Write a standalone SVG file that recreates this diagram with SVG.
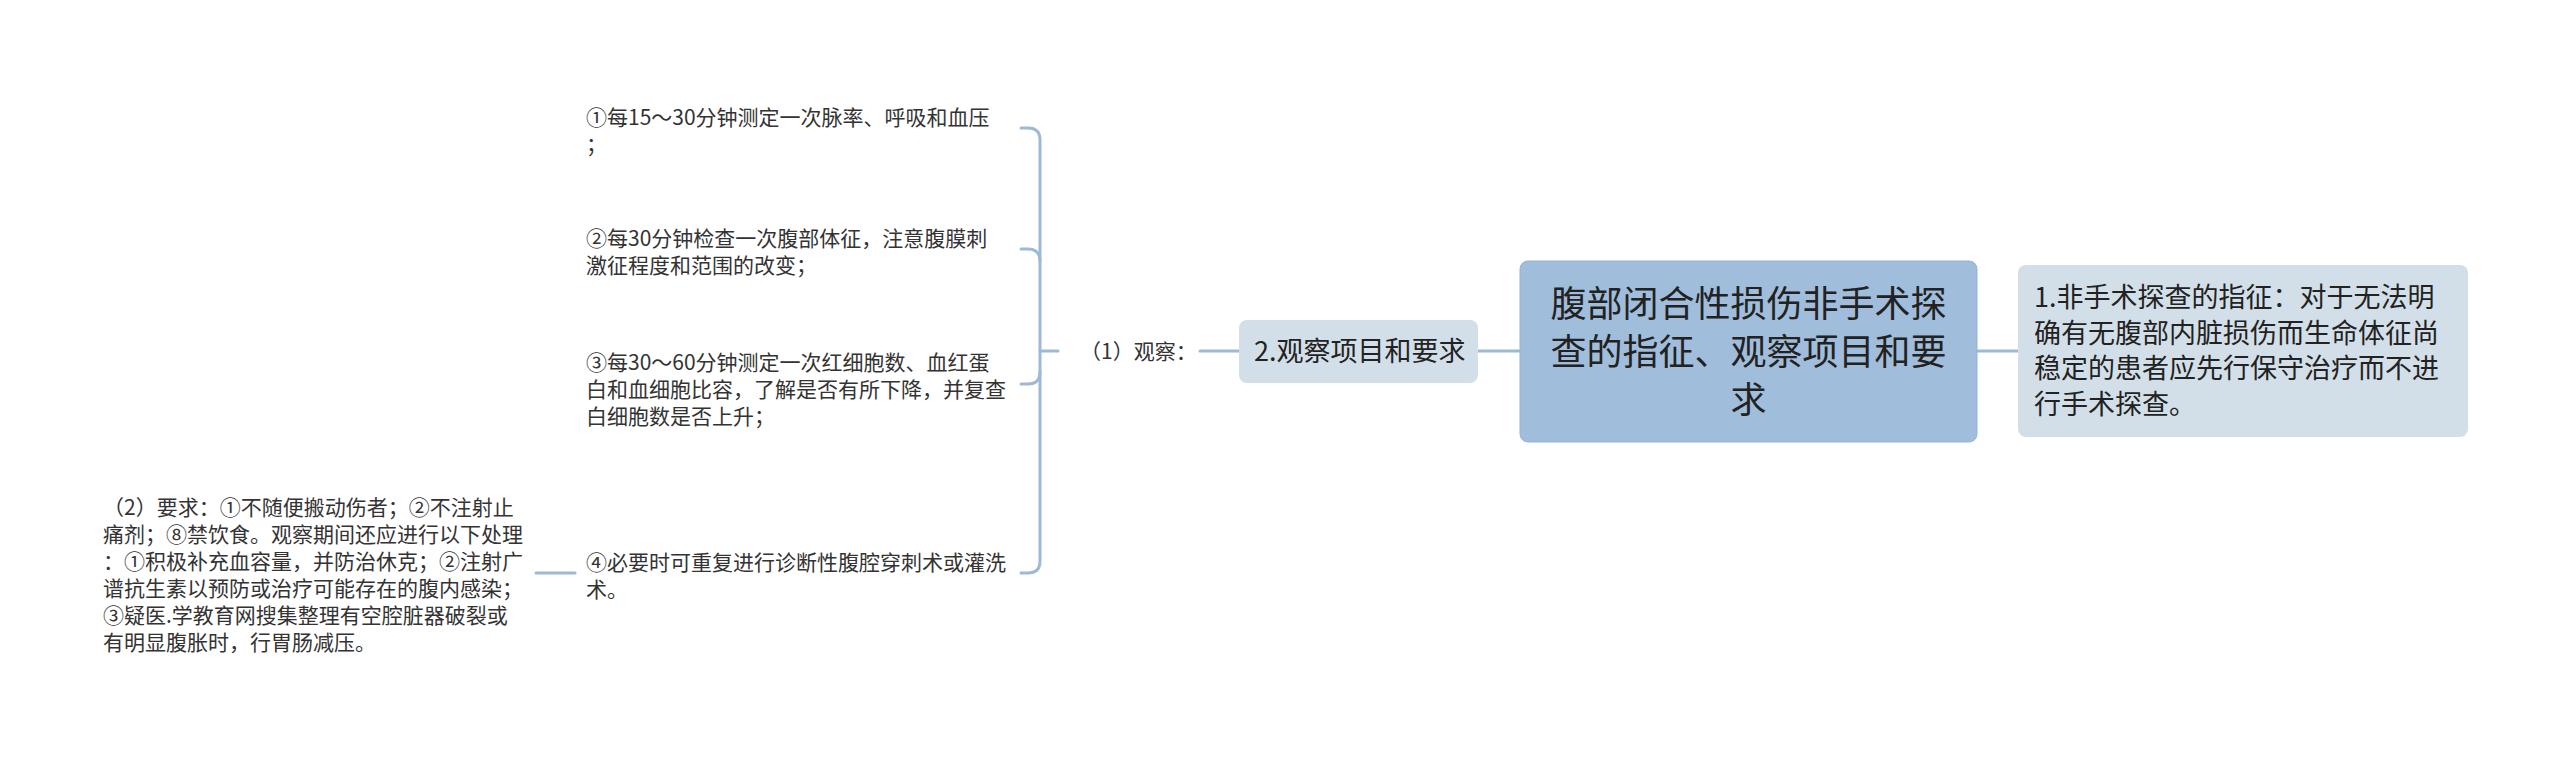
<svg xmlns="http://www.w3.org/2000/svg" width="2560" height="757" viewBox="0 0 2560 757">
<style>
text { font-family: "Noto Sans CJK SC", "Noto Sans", sans-serif; fill: #222; }
.root-t { font-size: 36px; text-anchor: middle; }
.mid-t { font-size: 27px; }
.leaf-t { font-size: 21px; fill: #333; }
.conn { fill: none; stroke: #9db9d5; stroke-width: 3; stroke-linecap: round; }
</style>
<rect width="2560" height="757" fill="#ffffff"/>
<g id="connectors">
<path class="conn" d="M1977 351 H2018"/>
<path class="conn" d="M1478 351 H1519"/>
<path class="conn" d="M1200 351 H1239"/>
<path class="conn" d="M1040 351 H1058"/>
<path class="conn" d="M1021 128 H1028 Q1040 128 1040 140 V561 Q1040 573 1028 573 H1021"/>
<path class="conn" d="M1021 249 H1028 Q1040 249 1040 261"/>
<path class="conn" d="M1021 384 H1028 Q1040 384 1040 372"/>
<path class="conn" d="M536 573 H575"/>
</g>
<g id="root">
<rect x="1520" y="261" width="457" height="181" rx="8" fill="#a0bedb" stroke="#95b3d1" stroke-width="1"/>
<text class="root-t" x="1748.5" y="317">腹部闭合性损伤非手术探</text>
<text class="root-t" x="1748.5" y="365">查的指征、观察项目和要</text>
<text class="root-t" x="1748.5" y="413">求</text>
</g>
<g id="node-indication">
<rect x="2018" y="265" width="450" height="172" rx="8" fill="#d3dfe8"/>
<text class="mid-t" x="2034" y="307">1.非手术探查的指征：对于无法明</text>
<text class="mid-t" x="2034" y="342.5">确有无腹部内脏损伤而生命体征尚</text>
<text class="mid-t" x="2034" y="378">稳定的患者应先行保守治疗而不进</text>
<text class="mid-t" x="2034" y="413.5">行手术探查。</text>
</g>
<g id="node-observe">
<rect x="1239" y="320" width="239" height="63" rx="8" fill="#d3dfe8"/>
<text class="mid-t" x="1254" y="361">2.观察项目和要求</text>
</g>
<g id="label-observe">
<text class="leaf-t" x="1080" y="358.5">（1）观察：</text>
</g>
<g id="leaf-1">
<text class="leaf-t" x="586" y="124.5">①每15～30分钟测定一次脉率、呼吸和血压</text>
<text class="leaf-t" x="586" y="151.5">；</text>
</g>
<g id="leaf-2">
<text class="leaf-t" x="586" y="245.5">②每30分钟检查一次腹部体征，注意腹膜刺</text>
<text class="leaf-t" x="586" y="272.5">激征程度和范围的改变；</text>
</g>
<g id="leaf-3">
<text class="leaf-t" x="586" y="369.5">③每30～60分钟测定一次红细胞数、血红蛋</text>
<text class="leaf-t" x="586" y="396.5">白和血细胞比容，了解是否有所下降，并复查</text>
<text class="leaf-t" x="586" y="423.5">白细胞数是否上升；</text>
</g>
<g id="leaf-4">
<text class="leaf-t" x="586" y="569.5">④必要时可重复进行诊断性腹腔穿刺术或灌洗</text>
<text class="leaf-t" x="586" y="597">术。</text>
</g>
<g id="requirements">
<text class="leaf-t" x="103" y="514.5">（2）要求：①不随便搬动伤者；②不注射止</text>
<text class="leaf-t" x="103" y="541.5">痛剂；⑧禁饮食。观察期间还应进行以下处理</text>
<text class="leaf-t" x="103" y="568.5">：①积极补充血容量，并防治休克；②注射广</text>
<text class="leaf-t" x="103" y="595.5">谱抗生素以预防或治疗可能存在的腹内感染；</text>
<text class="leaf-t" x="103" y="622.5">③疑医.学教育网搜集整理有空腔脏器破裂或</text>
<text class="leaf-t" x="103" y="649.5">有明显腹胀时，行胃肠减压。</text>
</g>
</svg>
